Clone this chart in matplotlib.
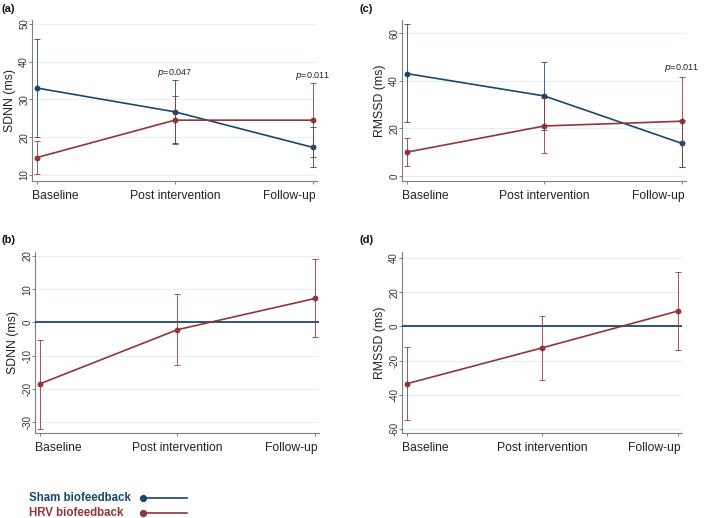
import matplotlib
matplotlib.use("Agg")
import matplotlib.pyplot as plt
from matplotlib.transforms import ScaledTranslation

plt.rcParams['font.family'] = ['Liberation Sans', 'DejaVu Sans']

categories = ["Baseline", "Post intervention", "Follow-up"]

sdnn_sham = [33.0, 26.7, 17.3]
sdnn_sham_lo = [20.0, 18.5, 12.0]
sdnn_sham_hi = [46.0, 35.0, 22.7]
sdnn_hrv = [14.6, 24.5, 24.5]
sdnn_hrv_lo = [10.2, 18.3, 14.8]
sdnn_hrv_hi = [19.0, 31.0, 34.2]

rmssd_sham = [43.0, 33.6, 13.7]
rmssd_sham_lo = [22.5, 19.3, 3.9]
rmssd_sham_hi = [64.0, 47.7, 23.5]
rmssd_hrv = [10.0, 21.0, 23.0]
rmssd_hrv_lo = [4.0, 9.8, 3.9]
rmssd_hrv_hi = [16.0, 32.6, 41.7]

sdnn_diff = [-18.5, -2.2, 7.2]
sdnn_diff_lo = [-32.0, -12.7, -4.5]
sdnn_diff_hi = [-5.2, 8.5, 19.0]
rmssd_diff = [-33.5, -12.5, 9.0]
rmssd_diff_lo = [-54.5, -31.5, -14.0]
rmssd_diff_hi = [-12.0, 6.0, 32.0]
sham_reference = 0.0

sdnn_pvals = {1: "0.047", 2: "0.011"}
rmssd_pvals = {2: "0.011"}

sdnn_ticks = [10, 20, 30, 40, 50]
rmssd_ticks = [0, 20, 40, 60]
sdnn_diff_ticks = [-30, -20, -10, 0, 10, 20]
rmssd_diff_ticks = [-60, -40, -20, 0, 20, 40]

BLUE = "#1a476f"
RED = "#90353b"
GRID = "#e6eff2"
SPINE = "#7f7f7f"

W, H = 709, 518
fig = plt.figure(figsize=(W / 100, H / 100), dpi=100)


def rect(l, r, t, b):
    return [l / W, 1 - b / H, (r - l) / W, (b - t) / H]


def style(ax, ticks, ylim, ylabel):
    x = list(range(len(categories)))
    ax.set_xlim(-0.035, 2.03)
    ax.set_ylim(*ylim)
    ax.set_yticks(ticks)
    ax.set_yticklabels([str(t) for t in ticks], rotation=90, va='center',
                       fontsize=7, color="#333333")
    ax.set_xticks(x)
    labels = ax.set_xticklabels(categories, fontsize=8.7, color="#222222")
    for s in ['top', 'right']:
        ax.spines[s].set_visible(False)
    for s in ['left', 'bottom']:
        ax.spines[s].set_color(SPINE)
        ax.spines[s].set_linewidth(0.8)
    ax.tick_params(axis='both', colors=SPINE, length=2.5, width=0.7)
    ax.tick_params(axis='x', pad=4, labelcolor="#222222")
    ax.tick_params(axis='y', pad=-0.5, labelcolor="#333333")
    ax.grid(axis='y', color=GRID, lw=0.8)
    ax.set_axisbelow(True)
    ax.set_ylabel(ylabel, fontsize=8.8, color="#222222", labelpad=2)
    labels = ax.get_xticklabels()
    labels[0].set_ha('left')
    labels[0].set_transform(labels[0].get_transform() +
                            ScaledTranslation(-5 / 100, 0, fig.dpi_scale_trans))
    labels[-1].set_ha('right')
    labels[-1].set_transform(labels[-1].get_transform() +
                             ScaledTranslation(3 / 100, 0, fig.dpi_scale_trans))


def series(ax, y, lo, hi, color, z):
    x = list(range(len(categories)))
    yerr = [[m - l for m, l in zip(y, lo)], [h - m for m, h in zip(y, hi)]]
    ax.errorbar(x, y, yerr=yerr, fmt='none', ecolor=color, elinewidth=0.7,
                capsize=2.2, capthick=0.7, alpha=0.85, zorder=z)
    ax.plot(x, y, color=color, lw=1.2, marker='o', ms=3.2, zorder=z + 1)


def pval(ax, idx, text, top):
    ax.text(idx, top, r"$\it{p}$=" + text, ha='center', va='bottom',
            fontsize=6.5, color="#222222")


# (a)
axa = fig.add_axes(rect(32, 317, 20, 181))
style(axa, sdnn_ticks, (8.4, 51.0), "SDNN (ms)")
series(axa, sdnn_sham, sdnn_sham_lo, sdnn_sham_hi, BLUE, 3)
series(axa, sdnn_hrv, sdnn_hrv_lo, sdnn_hrv_hi, RED, 5)
for i, t in sdnn_pvals.items():
    pval(axa, i, t, max(sdnn_sham_hi[i], sdnn_hrv_hi[i]) + 0.3)

# (c)
axc = fig.add_axes(rect(402, 686, 20, 181))
style(axc, rmssd_ticks, (-2.1, 65.5), "RMSSD (ms)")
series(axc, rmssd_sham, rmssd_sham_lo, rmssd_sham_hi, BLUE, 3)
series(axc, rmssd_hrv, rmssd_hrv_lo, rmssd_hrv_hi, RED, 5)
for i, t in rmssd_pvals.items():
    pval(axc, i, t, max(rmssd_sham_hi[i], rmssd_hrv_hi[i]) + 1.0)

# (b)
axb = fig.add_axes(rect(35, 319, 252, 433))
style(axb, sdnn_diff_ticks, (-33.3, 21.2), "SDNN (ms)")
axb.axhline(sham_reference, color=BLUE, lw=1.3, zorder=3)
series(axb, sdnn_diff, sdnn_diff_lo, sdnn_diff_hi, RED, 5)

# (d)
axd = fig.add_axes(rect(402, 682, 252, 433))
style(axd, rmssd_diff_ticks, (-62.3, 43.5), "RMSSD (ms)")
axd.axhline(sham_reference, color=BLUE, lw=1.3, zorder=3)
series(axd, rmssd_diff, rmssd_diff_lo, rmssd_diff_hi, RED, 5)

# panel letters
for lbl, (px, py) in {"(a)": (2, 9), "(c)": (359, 9),
                      "(b)": (2, 240), "(d)": (359, 240)}.items():
    fig.text(px / W, 1 - py / H, lbl, fontsize=8, fontweight='bold',
             ha='left', va='center', color="#111111")

# legend
leg = fig.add_axes([0, 0, 1, 1], zorder=-1)
leg.set_xlim(0, W)
leg.set_ylim(H, 0)
leg.axis('off')
for name, color, yy in [("Sham biofeedback", BLUE, 498),
                        ("HRV biofeedback", RED, 513)]:
    leg.text(29, yy, name, color=color, fontsize=8.3, fontweight='bold',
             ha='left', va='center')
    leg.plot([143, 187], [yy, yy], color=color, lw=1.2)
    leg.plot([143], [yy], color=color, marker='o', ms=4.2)

fig.savefig("out.png", dpi=100)
